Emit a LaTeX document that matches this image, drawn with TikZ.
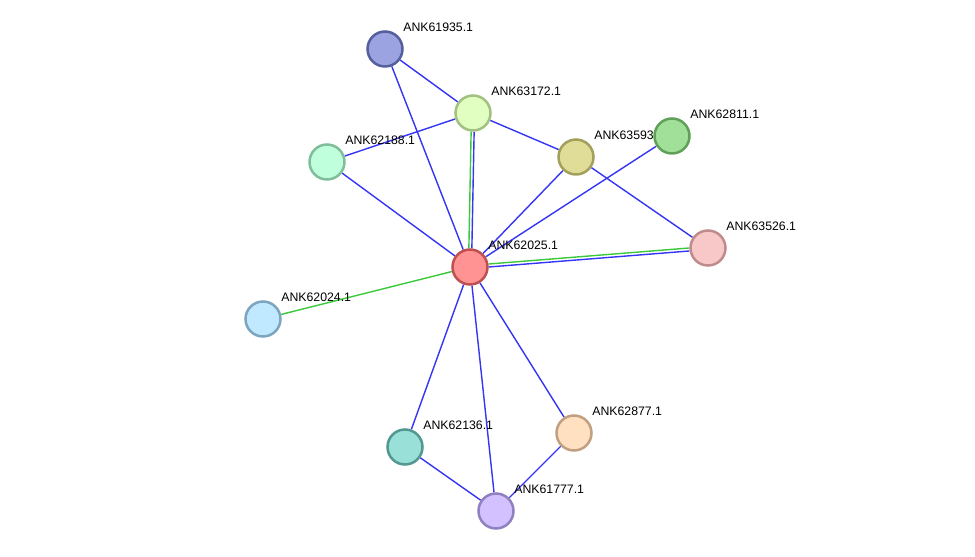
\documentclass[tikz,border=0pt]{standalone}
\usepackage{fontspec}
\setmainfont{Liberation Sans}
\usetikzlibrary{backgrounds}

\definecolor{azul}{HTML}{3535F5}
\definecolor{verde}{HTML}{3CC83C}

\begin{document}
\begin{tikzpicture}[
	x=0.02cm, y=-0.02cm,
	no/.style={draw, circle, minimum size=0.7cm, inner sep=0pt, line width=0.05cm},
	rot/.style={anchor=base west, inner sep=0pt, font=\fontsize{7}{8}\selectfont},
	seta/.style={azul, line width=0.8pt},
	setav/.style={verde, line width=0.8pt}
	]
	\useasboundingbox (0,0) rectangle (975,557);

	\node[no, fill={rgb,255:red,155;green,164;blue,224}, draw={rgb,255:red,85;green,95;blue,155}] (A) at (385,49) {};
	\node[rot] at ([shift={(18,-17)}]A.center) {ANK61935.1};
	\node[no, fill={rgb,255:red,224;green,255;blue,192}, draw={rgb,255:red,162;green,192;blue,128}] (B) at (473,113) {};
	\node[rot] at ([shift={(18,-17)}]B.center) {ANK63172.1};
	\node[no, fill={rgb,255:red,192;green,255;blue,219}, draw={rgb,255:red,128;green,190;blue,155}] (C) at (327,162) {};
	\node[rot] at ([shift={(18,-17)}]C.center) {ANK62188.1};
	\node[no, fill={rgb,255:red,224;green,221;blue,152}, draw={rgb,255:red,162;green,160;blue,92}] (D) at (576,157) {};
	\node[rot] at ([shift={(18,-17)}]D.center) {ANK63593.1};
	\node[no, fill={rgb,255:red,160;green,224;blue,152}, draw={rgb,255:red,96;green,160;blue,88}] (E) at (672,136) {};
	\node[rot] at ([shift={(18,-17)}]E.center) {ANK62811.1};
	\node[no, fill={rgb,255:red,248;green,200;blue,200}, draw={rgb,255:red,190;green,140;blue,140}] (F) at (708,248) {};
	\node[rot] at ([shift={(18,-17)}]F.center) {ANK63526.1};
	\node[no, fill={rgb,255:red,255;green,146;blue,146}, draw={rgb,255:red,190;green,80;blue,80}] (G) at (470,267) {};
	\node[rot] at ([shift={(18,-17)}]G.center) {ANK62025.1};
	\node[no, fill={rgb,255:red,192;green,232;blue,255}, draw={rgb,255:red,125;green,165;blue,192}] (H) at (263,319) {};
	\node[rot] at ([shift={(18,-17)}]H.center) {ANK62024.1};
	\node[no, fill={rgb,255:red,152;green,224;blue,216}, draw={rgb,255:red,82;green,152;blue,145}] (I) at (405,447) {};
	\node[rot] at ([shift={(18,-17)}]I.center) {ANK62136.1};
	\node[no, fill={rgb,255:red,255;green,224;blue,192}, draw={rgb,255:red,192;green,160;blue,128}] (J) at (574,433) {};
	\node[rot] at ([shift={(18,-17)}]J.center) {ANK62877.1};
	\node[no, fill={rgb,255:red,210;green,192;blue,255}, draw={rgb,255:red,145;green,128;blue,192}] (K) at (496,511) {};
	\node[rot] at ([shift={(18,-17)}]K.center) {ANK61777.1};

	\begin{scope}[on background layer]
	\draw[seta] (A) -- (B);
	\draw[seta] (A) -- (G);
	\draw[seta] (B) -- (C);
	\draw[seta] (B) -- (D);
	\draw[setav, transform canvas={xshift=-0.03cm}] (B) -- (G);
	\draw[seta, transform canvas={xshift=0.03cm}] (B) -- (G);
	\draw[seta] (C) -- (G);
	\draw[seta] (D) -- (G);
	\draw[seta] (D) -- (F);
	\draw[seta] (E) -- (G);
	\draw[setav, transform canvas={yshift=0.03cm}] (F) -- (G);
	\draw[seta, transform canvas={yshift=-0.03cm}] (F) -- (G);
	\draw[setav] (H) -- (G);
	\draw[seta] (G) -- (I);
	\draw[seta] (G) -- (K);
	\draw[seta] (G) -- (J);
	\draw[seta] (I) -- (K);
	\draw[seta] (J) -- (K);
	\end{scope}
\end{tikzpicture}
\end{document}
